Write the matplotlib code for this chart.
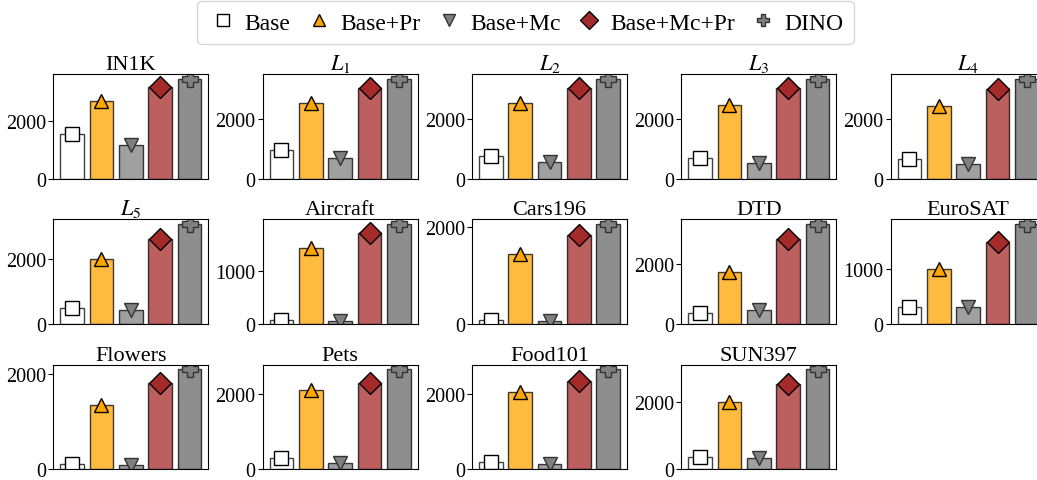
import numpy as np
import matplotlib
matplotlib.use('Agg')
import matplotlib.pyplot as plt
from matplotlib.lines import Line2D

plt.rcParams['font.family'] = ['Liberation Serif', 'DejaVu Serif']
plt.rcParams['mathtext.fontset'] = 'stix'

datasets = ['IN1K', '$L_1$', '$L_2$', '$L_3$', '$L_4$', '$L_5$', 'Aircraft', 'Cars196',
            'DTD', 'EuroSAT', 'Flowers', 'Pets', 'Food101', 'SUN397']
methods = ['Base', 'Base+Pr', 'Base+Mc', 'Base+Mc+Pr', 'DINO']

base = [1546, 978, 765, 698, 652, 482, 62, 69, 367, 309, 98, 287, 188, 369]
base_pr = [2712, 2563, 2540, 2485, 2440, 1990, 1428, 1454, 1722, 994, 1354, 2108, 2054, 2000]
base_mc = [1163, 698, 562, 528, 506, 410, 44, 55, 444, 303, 91, 170, 143, 330]
base_mc_pr = [3200, 3069, 3046, 3046, 3024, 2615, 1717, 1834, 2811, 1479, 1811, 2315, 2360, 2550]
dino = [3480, 3362, 3350, 3362, 3362, 3055, 1874, 2062, 3311, 1806, 2091, 2665, 2665, 2970]

series = [base, base_pr, base_mc, base_mc_pr, dino]
bar_colors = ['white', 'orange', 'gray', 'brown', 'dimgray']
markers = ['s', '^', 'v', 'D', 'P']
marker_face = ['white', 'orange', 'gray', 'brown', 'gray']
marker_edge = ['black', 'black', '#333333', 'black', '#333333']
marker_size = [10, 10, 10, 11, 11]

fig, axes = plt.subplots(3, 5, figsize=(10.37, 4.81), dpi=100)
fig.subplots_adjust(left=0.0514, right=1.0084, top=0.844, bottom=0.0229,
                    wspace=0.35, hspace=0.39)
axes = axes.flatten()

x = np.arange(len(methods))
for i, name in enumerate(datasets):
    ax = axes[i]
    vals = [s[i] for s in series]
    ax.bar(x, vals, width=0.8, color=bar_colors, edgecolor='black', alpha=0.75, linewidth=1)
    for j in range(len(methods)):
        ax.plot(x[j], vals[j], marker=markers[j], color=marker_face[j],
                markeredgecolor=marker_edge[j], markersize=marker_size[j],
                markeredgewidth=1, linestyle='none')
    ax.set_title(name, fontsize=16, pad=2)
    ax.set_xticks([])
    ax.locator_params(axis='y', nbins=2)
    ax.tick_params(axis='y', labelsize=14.5, length=3.5, pad=1.5)

axes[-1].axis('off')

handles = [Line2D([], [], marker=markers[j], color=marker_face[j],
                  markeredgecolor=marker_edge[j], markersize=marker_size[j] * 0.8,
                  linestyle='none', label=methods[j]) for j in range(len(methods))]
fig.legend(handles=handles, loc='upper center', bbox_to_anchor=(0.507, 1.0), ncol=5,
           fontsize=17, handletextpad=0.25, columnspacing=0.55, borderpad=0.45,
           handlelength=1.3, borderaxespad=0.1)

plt.savefig('out.png', dpi=100)
